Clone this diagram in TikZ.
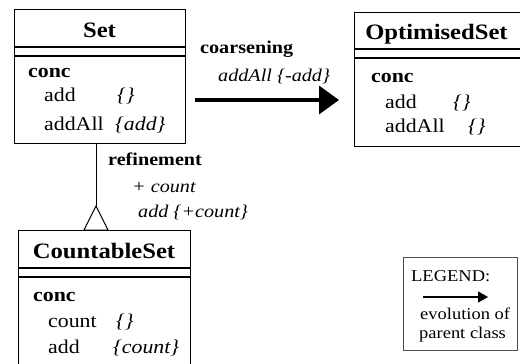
\documentclass[tikz,border=0pt]{standalone}
\usepackage{fontspec}
\setmainfont{Liberation Serif}[FakeStretch=1.12]
\usetikzlibrary{arrows.meta}

\begin{document}
\begin{tikzpicture}[x=1pt,y=-1pt,
  cbox/.style={draw, line width=1.3pt, rectangle, inner sep=0pt, anchor=north west},
  sep/.style={line width=1.3pt},
  hdr/.style={font=\fontsize{22}{24}\selectfont\bfseries, inner sep=0pt, anchor=base},
  txt/.style={font=\fontsize{19.5}{22}\selectfont, inner sep=0pt, anchor=base west},
  btxt/.style={txt, font=\fontsize{19.5}{22}\selectfont\bfseries},
  itxt/.style={txt, font=\fontsize{19.5}{22}\selectfont\itshape},
  lbl/.style={font=\fontsize{18}{20}\selectfont\bfseries, inner sep=0pt, anchor=base west},
  ilbl/.style={font=\fontsize{18}{20}\selectfont\itshape, inner sep=0pt, anchor=base west},
  leg/.style={font=\fontsize{16.5}{18}\selectfont, inner sep=0pt, anchor=base west},
]
\useasboundingbox (0,0) rectangle (520,364);
\clip (0,0) rectangle (520,364);

% class Set
\node[cbox, minimum width=171pt, minimum height=134pt] (set) at (14,9) {};
\draw[sep] ([yshift=-38pt]set.north west) -- ([yshift=-38pt]set.north east);
\draw[sep] ([yshift=-47pt]set.north west) -- ([yshift=-47pt]set.north east);
\node[hdr] (setname) at (99.5,37) {Set};
\node[btxt] (setconc) at (28,77) {conc};
\node[txt] (setadd) at (44,101.5) {add};
\node[itxt] (setaddm) at (117,101.5) {\{\}};
\node[txt] (setaddall) at (44,130) {addAll};
\node[itxt] (setaddallm) at (115,130) {\{add\}};

% class OptimisedSet
\node[cbox, minimum width=172pt, minimum height=134pt] (opt) at (354,12) {};
\draw[sep] ([yshift=-37pt]opt.north west) -- ([yshift=-37pt]opt.north east);
\draw[sep] ([yshift=-46pt]opt.north west) -- ([yshift=-46pt]opt.north east);
\node[hdr] (optname) at (436.5,39) {OptimisedSet};
\node[btxt] (optconc) at (371,82) {conc};
\node[txt] (optadd) at (385,108) {add};
\node[itxt] (optaddm) at (453,108) {\{\}};
\node[txt] (optaddall) at (385,132) {addAll};
\node[itxt] (optaddallm) at (468,132) {\{\}};

% class CountableSet
\node[cbox, minimum width=172pt, minimum height=150pt] (cnt) at (18,230) {};
\draw[sep] ([yshift=-38pt]cnt.north west) -- ([yshift=-38pt]cnt.north east);
\draw[sep] ([yshift=-47pt]cnt.north west) -- ([yshift=-47pt]cnt.north east);
\node[hdr] (cntname) at (104,258) {CountableSet};
\node[btxt] (cntconc) at (33,301) {conc};
\node[txt] (cntcount) at (48,327) {count};
\node[itxt] (cntcountm) at (116,327) {\{\}};
\node[txt] (cntadd) at (48,353) {add};
\node[itxt] (cntaddm) at (113,353) {\{count\}};

% refinement: Set -> CountableSet (open triangle head)
\coordinate (reftip) at (96,206);
\draw[line width=1pt] (reftip |- set.south) -- (reftip);
\draw[line width=1pt, fill=white, line join=miter] (reftip) -- ++(-12,24) -- ++(24,0) -- cycle;
\node[lbl] (reflbl) at (108,165) {refinement};
\node[ilbl] (refa) at (132,192) {+ count};
\node[ilbl] (refb) at (138,217) {add \{+count\}};

% coarsening: Set -> OptimisedSet
\coordinate (cstart) at (195,100);
\draw[line width=3.8pt, -{Triangle[length=20pt,width=28pt]}, shorten >=15pt]
  (cstart) -- (cstart -| opt.west);
\node[lbl] (coalbl) at (200,53) {coarsening};
\node[ilbl] (coaa) at (218,81) {addAll \{-add\}};

% legend
\node[draw=black!70, line width=0.8pt, rectangle, inner sep=0pt,
  minimum width=114pt, minimum height=93pt, anchor=north west] (legend) at (403,257) {};
\node[leg] (legtitle) at (411,281) {LEGEND:};
\coordinate (lega) at (423,297);
\coordinate (legb) at (488,297);
\draw[line width=1.2pt, -{Triangle[length=10pt,width=11pt]}] (lega) -- (legb);
\node[leg] (legev) at (420,319) {evolution of};
\node[leg] (legpc) at (419,338) {parent class};
\end{tikzpicture}
\end{document}
